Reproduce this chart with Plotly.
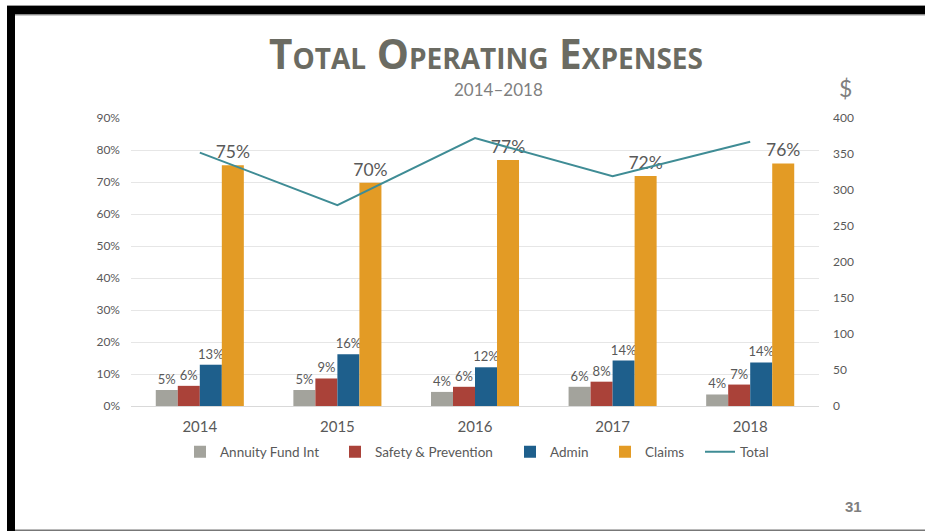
import plotly.graph_objects as go

years = ["2014", "2015", "2016", "2017", "2018"]
annuity = [5.0, 5.0, 4.4, 6.0, 3.6]
safety = [6.3, 8.6, 6.0, 7.6, 6.7]
admin = [12.9, 16.2, 12.1, 14.2, 13.6]
claims = [75.2, 69.8, 76.9, 71.9, 75.8]
total = [352, 279, 372, 319, 367]

W, H = 925, 531
ML, MR, MT, MB = 131, 106, 118, 125
PW = W - ML - MR
PH = H - MT - MB

def px(x):
    return (x - ML) / PW

def py(y):
    return (H - MB - y) / PH

FONT = "Lato"
LABEL = "#595959"

# legend text start positions (px) for each entry
leg_text_x = [222, 377, 552, 647, 742]
leg_names = ["legend", "legend2", "legend3", "legend4", "legend5"]

fig = go.Figure()
series = [
    ("Annuity Fund Int", annuity, "#a3a39c", 13),
    ("Safety & Prevention", safety, "#aa4239", 13),
    ("Admin", admin, "#1e5f8c", 13),
    ("Claims", claims, "#e39b25", 17.5),
]
for i, (name, vals, col, fs) in enumerate(series):
    fig.add_trace(go.Bar(
        x=years, y=vals, name=name, marker=dict(color=col, line=dict(width=0)),
        text=vals, texttemplate="%{y:.0f}%", textposition="outside", constraintext="none",
        textfont=dict(size=fs, color=LABEL, family=FONT), cliponaxis=False,
        legend=leg_names[i],
    ))
fig.add_trace(go.Scatter(
    x=years, y=total, name="Total", mode="lines", yaxis="y2",
    line=dict(color="#3f8c95", width=2), legend=leg_names[4],
))

legends = {}
for ln, tx in zip(leg_names, leg_text_x):
    legends[ln] = dict(orientation="h", x=px(tx - 42), xanchor="left", y=py(452), yanchor="middle",
                       font=dict(size=13.5, color=LABEL, family=FONT), itemwidth=30,
                       bgcolor="rgba(0,0,0,0)")

fig.update_layout(
    width=W, height=H, autosize=False,
    margin=dict(l=ML, r=MR, t=MT, b=MB),
    paper_bgcolor="white", plot_bgcolor="white",
    barmode="group", bargap=0.36, bargroupgap=0,
    font=dict(family=FONT, color=LABEL, size=12),
    showlegend=True,
    xaxis=dict(showgrid=False, showline=False, ticks="", ticklabelstandoff=10,
               tickfont=dict(size=15, color=LABEL)),
    yaxis=dict(range=[0, 90], dtick=10, ticksuffix="%", showgrid=True, gridcolor="#e6e6e6",
               gridwidth=1, zeroline=True, zerolinecolor="#d9d9d9", zerolinewidth=1,
               showline=False, ticks="", ticklabelstandoff=10, tickfont=dict(size=12, color=LABEL)),
    yaxis2=dict(range=[0, 400], dtick=50, overlaying="y", side="right", showgrid=False,
                zeroline=False, showline=False, ticks="", ticklabelstandoff=13,
                tickfont=dict(size=12, color=LABEL)),
    title=dict(text="Total Operating Expenses", x=486 / W, xanchor="center",
               y=1 - 55 / H, yanchor="middle",
               font=dict(family="Open Sans", size=40.5, color="#6b6b62", weight="bold",
                         variant="small-caps")),
    **legends,
)

fig.add_annotation(text="2014–2018", xref="paper", yref="paper", x=px(499), y=py(89),
                   xanchor="center", yanchor="middle",
                   showarrow=False, font=dict(size=17, color="#7f7f7f", family=FONT))
fig.add_annotation(text="$", xref="paper", yref="paper", x=px(845), y=py(88),
                   xanchor="center", yanchor="middle",
                   showarrow=False, font=dict(size=23, color="#7f7f7f", family=FONT))
fig.add_annotation(text="<b>31</b>", xref="paper", yref="paper", x=px(853), y=py(506),
                   xanchor="center", yanchor="middle",
                   showarrow=False, font=dict(size=15, color="#7f7f7f", family="Liberation Sans"))

# slide frame
fig.add_shape(type="rect", xref="paper", yref="paper", x0=px(7), x1=px(925), y0=py(14.5), y1=py(6),
              fillcolor="black", line=dict(width=0), layer="above")
fig.add_shape(type="line", xref="paper", yref="paper", x0=px(7), x1=px(925), y0=py(5.5), y1=py(5.5),
              line=dict(color="#999999", width=1), layer="above")
fig.add_shape(type="line", xref="paper", yref="paper", x0=px(15), x1=px(925), y0=py(15), y1=py(15),
              line=dict(color="#999999", width=1), layer="above")
fig.add_shape(type="rect", xref="paper", yref="paper", x0=px(7), x1=px(15), y0=py(531), y1=py(6),
              fillcolor="black", line=dict(width=0), layer="above")
fig.add_shape(type="rect", xref="paper", yref="paper", x0=px(15), x1=px(925), y0=py(531), y1=py(529.5),
              fillcolor="#777777", line=dict(width=0), layer="above")

fig.write_html("out.html", config={"displayModeBar": False},
               post_script="document.body.style.margin='0px';document.body.style.overflow='hidden';")
